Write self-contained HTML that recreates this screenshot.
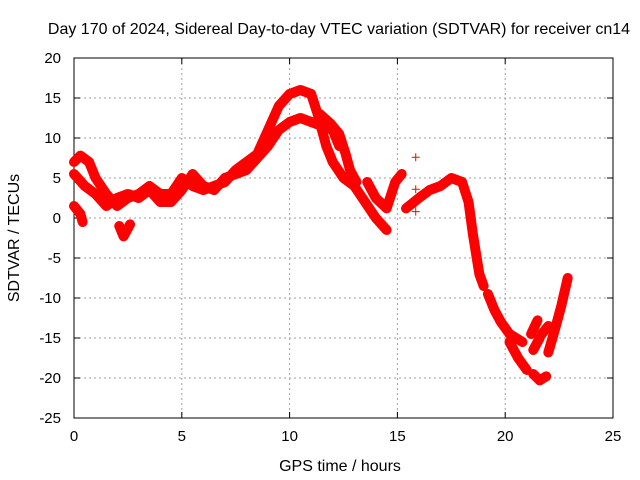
<!DOCTYPE html>
<html><head><meta charset="utf-8"><style>
body{margin:0;background:#fff}
svg{display:block;font-family:"Liberation Sans",sans-serif}
</style></head><body>
<svg id="chart" width="640" height="480"></svg>
<script>
const xTicks=[0,5,10,15,20,25];
const yTicks=[20,15,10,5,0,-5,-10,-15,-20,-25];
const track1=[[0,7],[0.3,7.8],[0.7,7],[1,5],[1.5,3],[2,1.5],[2.5,2.5],[3,3],[3.5,4],[4,3],[4.5,3],[5,5],[5.5,4],[6,3.5],[7,4.5],[7.5,6],[8,7],[8.5,8],[9,11],[9.5,14],[10,15.5],[10.5,16],[11,15.5],[11.3,13],[11.7,9],[12,7],[12.5,5],[13,4],[13.5,2],[14,0],[14.5,-1.5]];
const track2=[[0,5.5],[0.5,4],[1,3],[1.5,1.5],[2,2.5],[2.5,3],[3,2.5],[3.5,3.5],[4,2],[4.5,2],[5,3.5],[5.5,5.5],[6,4],[6.5,3.5],[7,5],[8,6],[8.5,7.5],[9,9],[9.5,11],[10,12],[10.5,12.5],[11,12],[11.5,11.5],[12,11],[12.3,9]];
const track3=[[0,1.5],[0.3,0.5],[0.4,-0.5]];
const track4=[[2.1,-1],[2.3,-2.3],[2.6,-0.8]];
const track5=[[11.4,13],[11.9,11.8],[12.3,10.5],[12.6,8],[12.8,6],[13.1,4.5]];
const track6=[[13.6,4.5],[14,2.5],[14.5,1.2],[14.9,4.5],[15.2,5.5]];
const track7=[[15.4,1.2],[16,2.5],[16.5,3.5],[17,4],[17.5,5],[18,4.5],[18.3,2],[18.5,-2],[18.8,-7],[19,-8.5]];
const track8=[[19.2,-9.5],[19.5,-11.5],[19.8,-13],[20.2,-14.5],[20.8,-15.5]];
const track9=[[20.2,-15.5],[20.6,-17.5],[21,-19]];
const track10=[[21.3,-19.5],[21.6,-20.3],[21.9,-19.8]];
const track11=[[21.2,-14.5],[21.5,-12.8]];
const track12=[[21.7,-14.5],[22,-13.5]];
const track13=[[21.3,-16.5],[21.6,-15]];
const track14=[[22,-16.8],[22.3,-14],[22.6,-11],[22.9,-7.5]];
const sparse=[[15.85,7.6],[15.85,3.6],[15.85,1.8],[15.85,0.8]];
const tracks=[track1,track2,track3,track4,track5,track6,track7,track8,track9,track10,track11,track12,track13,track14];

const L=74,R=613,T=58,B=418,xmin=0,xmax=25,ymin=-25,ymax=20;
const X=v=>L+(v-xmin)/(xmax-xmin)*(R-L);
const Y=v=>B-(v-ymin)/(ymax-ymin)*(B-T);
const svg=document.getElementById('chart');
const NS='http://www.w3.org/2000/svg';
function mk(tag,at,txt){const e=document.createElementNS(NS,tag);for(const k in at)e.setAttribute(k,at[k]);if(txt!==undefined)e.textContent=txt;svg.appendChild(e);return e;}
let e;
e=mk('text',{x:339,y:34,'text-anchor':'middle','font-size':16,fill:'#000'},'Day 170 of 2024, Sidereal Day-to-day VTEC variation (SDTVAR) for receiver cn14');


xTicks.forEach(t=>{
 const x=X(t);
 if(t>0&&t<25){e=mk('line',{x1:x,x2:x,y1:T,y2:B,stroke:'#a0a0a0','stroke-dasharray':'2,3'});
 
 }
 mk('line',{x1:x,x2:x,y1:B,y2:B-6,stroke:'#000'});mk('line',{x1:x,x2:x,y1:T,y2:T+6,stroke:'#000'});
 e=mk('text',{x:x,y:B+23,'text-anchor':'middle','font-size':15},t);
 
 
});
yTicks.forEach(t=>{
 const y=Y(t);
 if(t>-25&&t<20){e=mk('line',{x1:L,x2:R,y1:y,y2:y,stroke:'#a0a0a0','stroke-dasharray':'2,3'});
 
 }
 mk('line',{x1:L,x2:L+6,y1:y,y2:y,stroke:'#000'});mk('line',{x1:R,x2:R-6,y1:y,y2:y,stroke:'#000'});
 e=mk('text',{x:L-13,y:y+5,'text-anchor':'end','font-size':15},t);
 
 
});
e=mk('rect',{x:L,y:T,width:R-L,height:B-T,fill:'none',stroke:'#000'});


tracks.forEach(tr=>{
 e=mk('polyline',{points:tr.map(p=>X(p[0])+','+Y(p[1])).join(' '),fill:'none',stroke:'#ff0000','stroke-width':10,'stroke-linejoin':'round','stroke-linecap':'round'});
 
 
});
sparse.forEach(p=>{
 const x=X(p[0]),y=Y(p[1]);
 e=mk('path',{d:`M${x-4},${y}h8M${x},${y-4}v8`,stroke:'#ff0000','stroke-width':1});
 
 
});
e=mk('text',{x:340,y:471,'text-anchor':'middle','font-size':16},'GPS time / hours');


e=mk('text',{x:0,y:0,'text-anchor':'middle','font-size':16,transform:'translate(19,238) rotate(-90)'},'SDTVAR / TECUs');


</script>
</body></html>
